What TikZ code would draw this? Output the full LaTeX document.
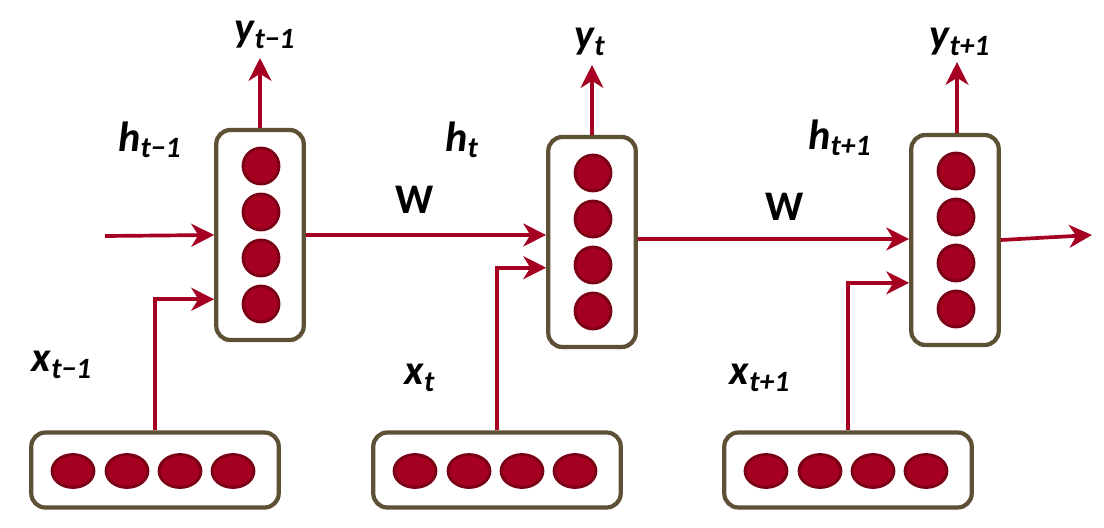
\documentclass[tikz,border=0pt]{standalone}
\usepackage{fontspec}
\setmainfont{Carlito}
\usepackage{tikz}
\usetikzlibrary{
	calc,
	arrows.meta,
	shapes.geometric,
	positioning
	}
\definecolor{rouge}{HTML}{A50021}
\definecolor{rougefonce}{HTML}{7A0015}
\definecolor{olive}{HTML}{5E5035}
\tikzstyle{boite-v}=[draw=olive,line width=2.4pt,rounded corners=8pt,minimum width=1.75cm,minimum height=4.2cm,inner sep=0pt]
\tikzstyle{boite-h}=[draw=olive,line width=2.4pt,rounded corners=8pt,minimum width=4.95cm,minimum height=1.5cm,inner sep=0pt]
\tikzstyle{neurone}=[draw=rougefonce,fill=rouge,line width=1.6pt,circle,inner sep=0pt,minimum size=0.72cm]
\tikzstyle{neurone-h}=[draw=rougefonce,fill=rouge,line width=1.6pt,ellipse,inner sep=0pt,minimum width=0.84cm,minimum height=0.66cm]
\tikzstyle{fleche}=[draw=rouge,line width=2.1pt,-{Stealth[length=13pt,width=13pt,inset=4pt]}]
\tikzstyle{etiquette}=[font=\fontsize{24}{28}\selectfont\bfseries\itshape,inner sep=0pt]
\newcommand{\lab}[2]{#1\textsubscript{#2}}

\begin{document}
\begin{tikzpicture}[x=0.02cm,y=-0.02cm]
\useasboundingbox (0,0) rectangle (1104,527);

% cellules cachees
\node[boite-v] (cell1) at (260,235) {};
\node[boite-v] (cell2) at (592,242) {};
\node[boite-v] (cell3) at (955,240) {};
% entrees
\node[boite-h] (entree1) at (155,470) {};
\node[boite-h] (entree2) at (497,470) {};
\node[boite-h] (entree3) at (848,470) {};

\foreach \c in {1,2,3}{
	\foreach \k/\dy in {1/-69,2/-23,3/23,4/69}
		\node[neurone] (n\c-\k) at ($(cell\c)+(1,\dy)$) {};
	\foreach \k/\dx in {1/-82,2/-28,3/25,4/78}
		\node[neurone-h] (e\c-\k) at ($(entree\c)+(\dx,1)$) {};
}

% sorties
\coordinate (sortie1) at (260,58);
\coordinate (sortie2) at (592,65);
\coordinate (sortie3) at (957,62);
\coordinate (debut) at (105,236);
\coordinate (fin) at (1092,235);
\coordinate (depart2) at ($(cell2.east)+(0,-3)$);

\draw[fleche] (cell1.north) -- (sortie1);
\draw[fleche] (cell2.north) -- (sortie2);
\draw[fleche] (cell3.north -| sortie3) -- (sortie3);

\draw[fleche] (debut) -- (cell1.west);
\draw[fleche] (cell1.east) -- (cell1.east -| cell2.west);
\draw[fleche] (depart2) -- (depart2 -| cell3.west);
\draw[fleche] (cell3.east) -- (fin);

\draw[fleche] (entree1.north) |- ($(cell1.south west)!0.2!(cell1.north west)$);
\draw[fleche] (entree2.north) |- ($(cell2.south west)!0.38!(cell2.north west)$);
\draw[fleche] (entree3.north) |- ($(cell3.south west)!0.3!(cell3.north west)$);

\node[etiquette] (y1) at (265,35) {\lab{y}{t−1}};
\node[etiquette] (y2) at (590,42) {\lab{y}{t}};
\node[etiquette] (y3) at (960,42) {\lab{y}{t+1}};
\node[etiquette] (h1) at (150,140) {\lab{h}{t−1}};
\node[etiquette] (h2) at (462,140) {\lab{h}{t}};
\node[etiquette] (h3) at (840,138) {\lab{h}{t+1}};
\node[etiquette,font=\fontsize{24}{28}\selectfont\bfseries] (w1) at (415,200) {W};
\node[etiquette,font=\fontsize{24}{28}\selectfont\bfseries] (w2) at (785,207) {W};
\node[etiquette] (x1) at (62,365) {\lab{x}{t−1}};
\node[etiquette] (x2) at (420,378) {\lab{x}{t}};
\node[etiquette] (x3) at (760,378) {\lab{x}{t+1}};
\end{tikzpicture}
\end{document}
